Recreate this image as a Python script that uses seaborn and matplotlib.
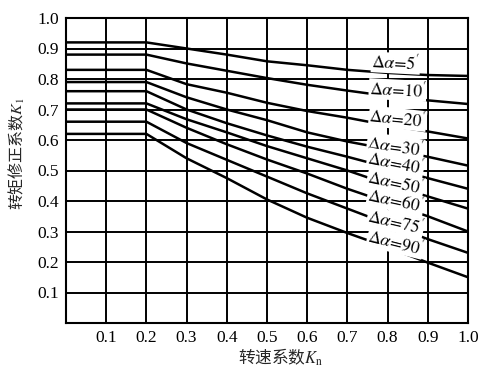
import numpy as np
import pandas as pd
import matplotlib
matplotlib.use("Agg")
import matplotlib.pyplot as plt
import seaborn as sns

# ---- data ----
kn = [0.0, 0.2, 0.3, 0.4, 0.5, 0.6, 0.7, 0.8, 0.9, 1.0]
angles = ["5", "10", "20", "30", "40", "50", "60", "75", "90"]
k_5 = [0.92, 0.92, 0.90, 0.88, 0.858, 0.845, 0.830, 0.820, 0.813, 0.810]
k_10 = [0.88, 0.88, 0.851, 0.827, 0.803, 0.781, 0.762, 0.744, 0.730, 0.718]
k_20 = [0.83, 0.83, 0.783, 0.755, 0.722, 0.695, 0.673, 0.648, 0.628, 0.605]
k_30 = [0.79, 0.79, 0.740, 0.700, 0.665, 0.625, 0.595, 0.570, 0.545, 0.516]
k_40 = [0.76, 0.76, 0.700, 0.655, 0.615, 0.578, 0.545, 0.510, 0.475, 0.440]
k_50 = [0.72, 0.72, 0.668, 0.625, 0.580, 0.540, 0.500, 0.455, 0.415, 0.375]
k_60 = [0.70, 0.70, 0.640, 0.586, 0.536, 0.490, 0.440, 0.395, 0.350, 0.300]
k_75 = [0.66, 0.66, 0.590, 0.535, 0.480, 0.425, 0.375, 0.325, 0.275, 0.230]
k_90 = [0.62, 0.62, 0.540, 0.475, 0.405, 0.345, 0.295, 0.248, 0.198, 0.150]
series = [k_5, k_10, k_20, k_30, k_40, k_50, k_60, k_75, k_90]

# label anchor positions (Kn, K1) and rotation
label_x = [0.82, 0.825, 0.825, 0.82, 0.82, 0.82, 0.82, 0.82, 0.82]
label_y = [0.852, 0.764, 0.670, 0.580, 0.525, 0.460, 0.400, 0.330, 0.263]
label_rot = [-3, -3, -6, -8, -11, -12, -12, -13, -14]

tick_vals = [0.1, 0.2, 0.3, 0.4, 0.5, 0.6, 0.7, 0.8, 0.9, 1.0]
tick_labels = ["0.1", "0.2", "0.3", "0.4", "0.5", "0.6", "0.7", "0.8", "0.9", "1.0"]

rows = []
for a, vals in zip(angles, series):
    for x, y in zip(kn, vals):
        rows.append({"Kn": x, "K1": y, "angle": a})
df = pd.DataFrame(rows)

sns.set_style("white")
plt.rcParams["font.family"] = ["Liberation Serif", "Noto Sans CJK SC", "DejaVu Sans"]
plt.rcParams["mathtext.fontset"] = "stix"

fig = plt.figure(figsize=(4.91, 3.77), dpi=100)
ax = fig.add_axes([66 / 491, 1 - 323 / 377, (468 - 66) / 491, (323 - 18) / 377])

sns.lineplot(data=df, x="Kn", y="K1", units="angle", estimator=None,
             color="black", linewidth=1.8, ax=ax, sort=False)

ax.set_xlim(0, 1)
ax.set_ylim(0, 1)
ax.set_xticks(tick_vals)
ax.set_xticklabels(tick_labels)
ax.set_yticks(tick_vals)
ax.set_yticklabels(tick_labels)
ax.grid(True, color="black", linewidth=1.4)
ax.set_axisbelow(True)
for s in ax.spines.values():
    s.set_color("black")
    s.set_linewidth(1.5)
ax.tick_params(length=0, labelsize=12.5, pad=5, colors="black")

ax.set_xlabel("转速系数$K_{\\mathrm{n}}$", fontsize=12,
              family=["Noto Sans CJK SC", "DejaVu Sans"])
ax.set_ylabel("转矩修正系数$K_1$", fontsize=11.5,
              family=["Noto Sans CJK SC", "DejaVu Sans"])
ax.xaxis.set_label_coords(0.535, -0.078)
ax.yaxis.set_label_coords(-0.098, 0.557)

for a, x, y, r in zip(angles, label_x, label_y, label_rot):
    ax.text(x, y, r"$\Delta\alpha\!=\!" + a + r"'$", fontsize=12.5, rotation=r,
            ha="center", va="center", color="black",
            bbox=dict(facecolor="white", edgecolor="none", pad=0.3))

fig.savefig("out.png", dpi=100)
